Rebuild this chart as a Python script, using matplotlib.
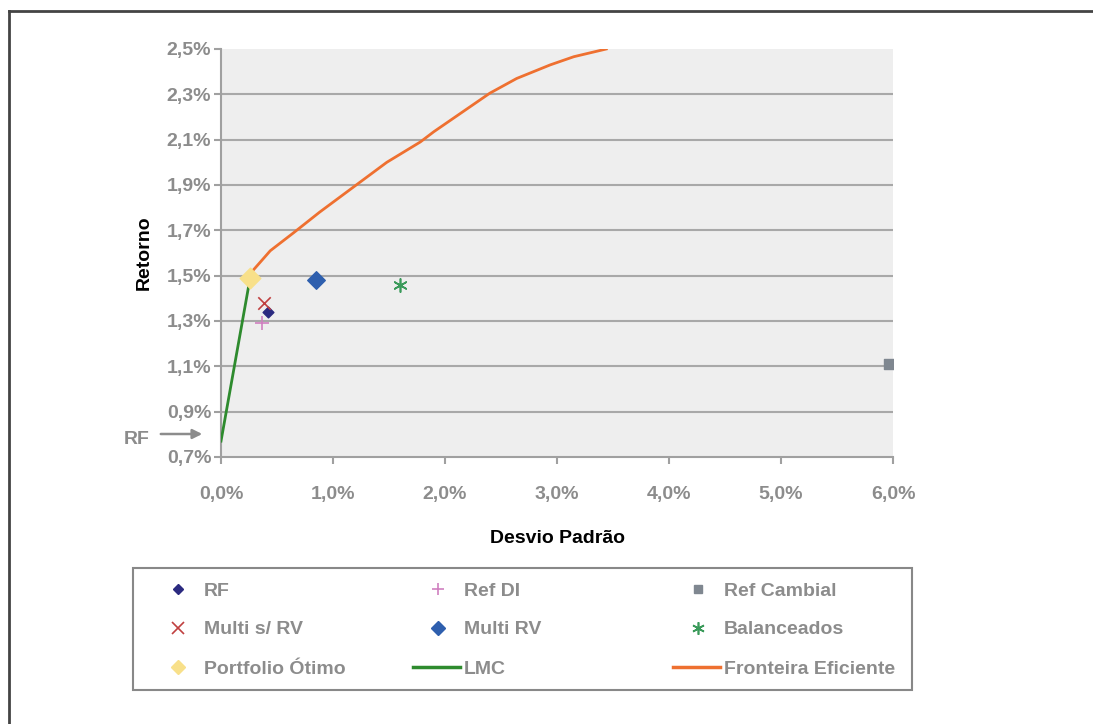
import matplotlib.pyplot as plt
from matplotlib.lines import Line2D
from matplotlib.patches import Rectangle

plt.rcParams["font.family"] = ["Liberation Sans", "DejaVu Sans"]
plt.rcParams["font.weight"] = "bold"

# --- Dados (em %) ---
rf_x, rf_y = [0.42], [1.34]
refdi_x, refdi_y = [0.37], [1.29]
refcamb_x, refcamb_y = [5.96], [1.11]
multi_srv_x, multi_srv_y = [0.38], [1.38]
multi_rv_x, multi_rv_y = [0.85], [1.48]
balanc_x, balanc_y = [1.60], [1.46]
otimo_x, otimo_y = [0.26], [1.49]

lmc_x = [0.0, 0.26]
lmc_y = [0.77, 1.49]

fronteira_x = [0.26, 0.28, 0.44, 0.65, 0.88, 1.18, 1.48, 1.78, 1.90, 2.40, 2.64, 2.94, 3.15, 3.44]
fronteira_y = [1.50, 1.52, 1.61, 1.69, 1.78, 1.89, 2.00, 2.09, 2.135, 2.305, 2.37, 2.43, 2.466, 2.50]

x_ticks = [0, 1, 2, 3, 4, 5, 6]
y_ticks = [0.7, 0.9, 1.1, 1.3, 1.5, 1.7, 1.9, 2.1, 2.3, 2.5]

tick_cor = "#8c8c8c"
fs = 14
W, H = 1093, 724

# --- Figura ---
fig = plt.figure(figsize=(W / 100, H / 100), dpi=100)
ax = fig.add_axes([221 / W, 1 - 457 / H, 672 / W, 408 / H])
ax.set_facecolor("#eeeeee")

for y in y_ticks[1:-1]:
    ax.axhline(y, color="#a8a8a8", linewidth=1.5, zorder=1)

ax.plot(lmc_x, lmc_y, color="#2e8b2e", linewidth=2, zorder=3)
ax.plot(fronteira_x, fronteira_y, color="#ee7030", linewidth=2, zorder=3)

ax.scatter(rf_x, rf_y, marker="D", s=30, color="#2b2a80", zorder=4)
ax.scatter(refdi_x, refdi_y, marker="+", s=90, color="#d080c0", linewidths=1.2, zorder=4)
ax.scatter(refcamb_x, refcamb_y, marker="s", s=55, color="#7f8790", zorder=4)
ax.scatter(multi_srv_x, multi_srv_y, marker="x", s=80, color="#c04040", linewidths=1.2, zorder=4)
ax.scatter(multi_rv_x, multi_rv_y, marker="D", s=80, color="#2e5fae", zorder=4)
ax.scatter(balanc_x, balanc_y, marker=(6, 2, 0), s=90, color="#3a9a5a", linewidths=1.2, zorder=4)
ax.scatter(otimo_x, otimo_y, marker="D", s=110, color="#f8e08a", zorder=5)

ax.set_xlim(0, 6)
ax.set_ylim(0.7, 2.5)
ax.set_xticks(x_ticks)
ax.set_yticks(y_ticks)
ax.set_xticklabels([f"{v:.1f}%".replace(".", ",") for v in x_ticks])
ax.set_yticklabels([f"{v:.1f}%".replace(".", ",") for v in y_ticks])
ax.tick_params(axis="both", colors="#a0a0a0", labelcolor=tick_cor, labelsize=fs,
               length=5, width=1.5)
ax.tick_params(axis="x", pad=16)
ax.tick_params(axis="y", pad=2)
for lbl in ax.get_xticklabels() + ax.get_yticklabels():
    lbl.set_fontweight("bold")

for s in ["top", "right"]:
    ax.spines[s].set_visible(False)
for s in ["left", "bottom"]:
    ax.spines[s].set_color("#a0a0a0")
    ax.spines[s].set_linewidth(1.5)

ax.set_xlabel("Desvio Padrão", fontsize=fs, fontweight="bold", labelpad=19)
ax.set_ylabel("Retorno", fontsize=fs, fontweight="bold", labelpad=10)

# Seta indicando a taxa livre de risco
fig.text(124 / W, 1 - 438 / H, "RF", color=tick_cor, fontsize=fs,
         fontweight="bold", va="center_baseline")
fig.add_artist(plt.Annotation("", xy=(205 / W, 1 - 434 / H),
                              xytext=(158 / W, 1 - 434 / H),
                              xycoords="figure fraction",
                              arrowprops=dict(arrowstyle="-|>", color="#8c8c8c",
                                              lw=1.8, mutation_scale=14)))

# --- Legenda montada à mão (3 x 3) ---
fig.add_artist(Rectangle((133 / W, 1 - 690 / H), 779 / W, 122 / H, transform=fig.transFigure,
                         facecolor="white", edgecolor="#888888", linewidth=1.5))

itens = [
    ("RF", dict(marker="D", ms=5, color="#2b2a80")),
    ("Ref DI", dict(marker="+", ms=9, mew=1.2, color="#d080c0")),
    ("Ref Cambial", dict(marker="s", ms=6, color="#7f8790")),
    ("Multi s/ RV", dict(marker="x", ms=9, mew=1.2, color="#c04040")),
    ("Multi RV", dict(marker="D", ms=7, color="#2e5fae")),
    ("Balanceados", dict(marker=(6, 2, 0), ms=9, mew=1.2, color="#3a9a5a")),
    ("Portfolio Ótimo", dict(marker="D", ms=7, color="#f8e08a")),
    ("LMC", dict(color="#2e8b2e", lw=2.5)),
    ("Fronteira Eficiente", dict(color="#ee7030", lw=2.5)),
]
col_x = [178, 438, 698]
lin_y = [589, 628, 667]
for i, (nome, estilo) in enumerate(itens):
    cx, cy = col_x[i % 3], lin_y[i // 3]
    yf = 1 - cy / H
    if "marker" in estilo:
        fig.add_artist(Line2D([cx / W], [yf], ls="", **estilo))
    else:
        fig.add_artist(Line2D([(cx - 25) / W, (cx + 22) / W], [yf, yf], **estilo))
    fig.text((cx + 26) / W, yf, nome, color=tick_cor, fontsize=fs,
             fontweight="bold", va="center_baseline")

# Moldura externa (apenas lados superior e esquerdo)
fig.add_artist(Line2D([9 / W, 9 / W], [0, 1 - 11 / H], color="#444444", lw=2))
fig.add_artist(Line2D([9 / W, 1], [1 - 11 / H, 1 - 11 / H], color="#444444", lw=2))

fig.savefig("out.png", dpi=100)
